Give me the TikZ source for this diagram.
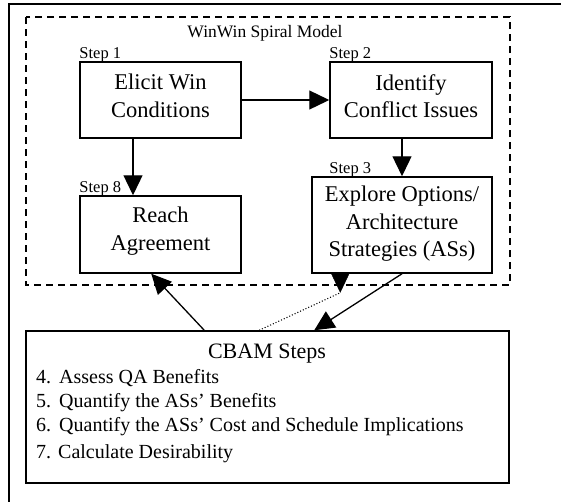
\documentclass[tikz,border=0pt]{standalone}
\usepackage{fontspec}
\setmainfont{Liberation Serif}
\usetikzlibrary{arrows.meta,calc}
\begin{document}
\begin{tikzpicture}[x=1pt,y=-1pt,
  stepbox/.style={draw, line width=1.5pt, inner sep=0pt},
  boxtext/.style={inner sep=0pt, align=center, font=\fontsize{22.5}{27.5}\selectfont},
  steplabel/.style={anchor=base west, inner sep=0pt, font=\fontsize{16.5}{18}\selectfont},
  item/.style={anchor=base west, inner sep=0pt, font=\fontsize{20}{24}\selectfont},
  flow/.style={line width=1.3pt, -{Triangle[length=20pt,width=19pt]}},
  tiponly/.style={-{Triangle[length=19pt,width=18pt]}},
  dotline/.style={line width=1.1pt, dash pattern=on 1pt off 2pt},
  group/.style={line width=1.4pt, dash pattern=on 7pt off 5pt}]
\useasboundingbox (0,0) rectangle (561,501);
\clip (0,0) rectangle (561,501);

% outer frame (open to the right and below)
\draw[line width=2pt] (9,520) -- (9,4) -- (580,4);

% WinWin group
\draw[group] (26,17) rectangle (510,285);
\node[font=\fontsize{17.5}{20}\selectfont] (title) at (265,33) {WinWin Spiral Model};

% process boxes
\node[stepbox, minimum width=161pt, minimum height=76pt] (s1) at (160.5,100) {};
\node[stepbox, minimum width=162pt, minimum height=76pt] (s2) at (411,100) {};
\node[stepbox, minimum width=180pt, minimum height=96pt] (s3) at (402,225) {};
\node[stepbox, minimum width=161pt, minimum height=77pt] (s8) at (160.5,234.5) {};

\node[boxtext] (t1) at ($(s1.center)+(0,-4)$) {Elicit Win\\Conditions};
\node[boxtext] (t2) at ($(s2.center)+(0,-4)$) {Identify\\Conflict Issues};
\node[boxtext] (t3) at ($(s3.center)+(0,-1)$) {Explore Options/\\Architecture\\Strategies (ASs)};
\node[boxtext] (t8) at ($(s8.center)+(0,-3.5)$) {Reach\\Agreement};

\node[steplabel] (l1) at ($(s1.north west)+(0,-3)$) {Step 1};
\node[steplabel] (l2) at ($(s2.north west)+(0,-3)$) {Step 2};
\node[steplabel] (l3) at ($(s3.north west)+(18,-3)$) {Step 3};
\node[steplabel] (l8) at ($(s8.north west)+(0,-3)$) {Step 8};

% CBAM box
\node[draw, line width=1.5pt, minimum width=483pt, minimum height=152pt, inner sep=0pt] (cbam) at (267.5,407) {};
\node[anchor=base, inner sep=0pt, font=\fontsize{22}{26}\selectfont] (ctitle) at (267,358) {CBAM Steps};
\node[item] (c4) at (36,383) {\makebox[1.15em][l]{4.}Assess QA Benefits};
\node[item] (c5) at (36,407) {\makebox[1.15em][l]{5.}Quantify the ASs’ Benefits};
\node[item] (c6) at (36,431) {\makebox[1.15em][l]{6.}Quantify the ASs’ Cost and Schedule Implications};
\node[item] (c7) at (36,458) {\makebox[1.1em][l]{7.}Calculate Desirability};

% connectors
\draw[flow] (s1.east) -- (s2.west);
\draw[flow] (s2.south -| s3.north) -- (s3.north);
\coordinate (a1) at ($(s1.south)+(-27.5,0)$);
\draw[flow] (a1) -- (a1 |- s8.north);
\coordinate (cb8) at ($(cbam.north west)+(179,0)$);
\coordinate (s8in) at ($(s8.south west)+(72,0)$);
\draw[flow] (cb8) -- (s8in);
\coordinate (cb3) at ($(cbam.north west)+(289,0)$);
\draw[flow] (s3.south) -- (cb3);
\coordinate (s3out) at ($(s3.south west)+(29,0)$);
\coordinate (s3tip) at ($(s3out)+(0,19)$);
\draw[tiponly] (s3out) -- (s3tip);
\coordinate (cbd) at ($(cbam.north west)+(234,0)$);
\draw[dotline] (cbd) -- (s3tip);
\end{tikzpicture}
\end{document}
